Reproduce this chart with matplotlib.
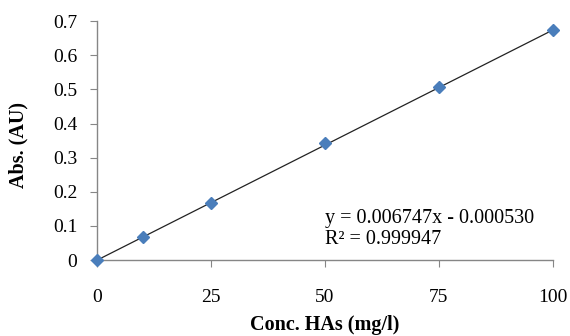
import matplotlib
matplotlib.use("Agg")
import matplotlib.pyplot as plt
import numpy as np

# calibration data
conc = [0, 10, 25, 50, 75, 100]
absorb = [0.0, 0.067, 0.167, 0.342, 0.506, 0.674]
slope = 0.006747
intercept = -0.000530
r2 = 0.999947

x_ticks = [0, 25, 50, 75, 100]
y_ticks = [0, 0.1, 0.2, 0.3, 0.4, 0.5, 0.6, 0.7]

plt.rcParams['font.family'] = ['Liberation Serif', 'DejaVu Serif']

fig = plt.figure(figsize=(5.7, 3.36), dpi=100)
ax = fig.add_axes([0.170, 0.226, 0.800, 0.711])

# trendline from the fitted equation
xl = np.array([conc[0], conc[-1]])
ax.plot(xl, slope * xl + intercept, color="#222222", linewidth=0.9, zorder=2)
ax.plot(conc, absorb, linestyle="none", marker="D", markersize=6,
        color="#4a7ebb", zorder=3, clip_on=False)

ax.set_xlim(0, 100)
ax.set_ylim(0, 0.7)
ax.set_xticks(x_ticks)
ax.set_yticks(y_ticks)
ax.set_xticklabels([str(v) for v in x_ticks])
ax.set_yticklabels(["0"] + ["%.1f" % v for v in y_ticks[1:]])

for side in ["top", "right"]:
    ax.spines[side].set_visible(False)
for side in ["left", "bottom"]:
    ax.spines[side].set_color("#868686")
    ax.spines[side].set_linewidth(1.0)

ax.tick_params(axis="y", direction="out", length=5, color="#868686",
               labelsize=14, pad=9)
ax.tick_params(axis="x", direction="out", length=5, color="#868686",
               labelsize=14, pad=16)

ax.set_ylabel("Abs. (AU)", fontsize=14.5, fontweight="bold", va="center")
ax.yaxis.set_label_coords(-0.173, 0.48)
ax.set_xlabel("Conc. HAs (mg/l)", fontsize=14.5, fontweight="bold", va="center")
ax.xaxis.set_label_coords(0.5, -0.272)

ax.text(0.5, 0.13, "y = %.6fx - %.6f\nR² = %.6f" % (slope, -intercept, r2),
        transform=ax.transAxes, fontsize=14.5, linespacing=1.2,
        ha="left", va="center")

fig.savefig("out.png", dpi=100)
